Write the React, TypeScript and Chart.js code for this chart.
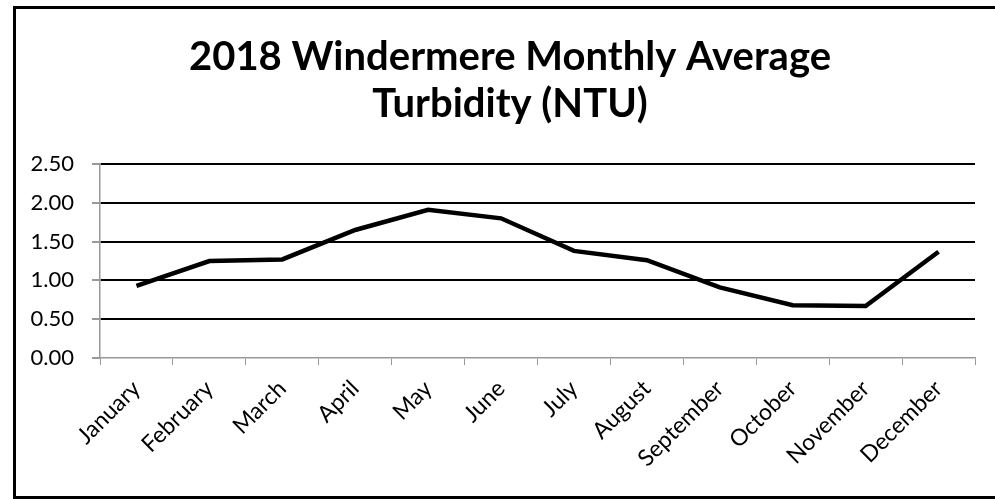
import React, { useEffect, useRef } from "react";
import { Chart, registerables } from "chart.js";

Chart.register(...registerables);

const months = [
  "January", "February", "March", "April", "May", "June",
  "July", "August", "September", "October", "November", "December",
];
const turbidity = [0.93, 1.25, 1.27, 1.65, 1.91, 1.80, 1.38, 1.26, 0.91, 0.68, 0.67, 1.37];
const titleLines = ["2018 Windermere Monthly Average", "Turbidity (NTU)"];
const yMin = 0;
const yMax = 2.5;
const yStep = 0.5;

// Title centred on the whole (cropped) chart frame, as in the original.
const frameTitle = {
  id: "frameTitle",
  afterDraw(chart: any) {
    const ctx = chart.ctx;
    ctx.save();
    ctx.font = "bold 40px Lato";
    ctx.fillStyle = "#000";
    ctx.textAlign = "center";
    ctx.textBaseline = "middle";
    const cx = (chart.width + 9) / 2;
    titleLines.forEach((t, i) => ctx.fillText(t, cx, 47.6 + i * 47.2));
    ctx.restore();
  },
};

export default function App() {
  const ref = useRef<HTMLCanvasElement | null>(null);

  useEffect(() => {
    if (!ref.current) return;
    const chart = new Chart(ref.current, {
      type: "line",
      data: {
        labels: months,
        datasets: [
          {
            label: "Turbidity",
            data: turbidity,
            borderColor: "#000",
            borderWidth: 4.5,
            pointRadius: 0,
            tension: 0,
            fill: false,
          },
        ],
      },
      plugins: [frameTitle],
      options: {
        responsive: false,
        animation: false,
        layout: { padding: { left: 0, right: 20, top: 155, bottom: 0 } },
        plugins: {
          legend: { display: false },
          tooltip: { enabled: false },
          title: { display: false },
        },
        scales: {
          x: {
            offset: true,
            grid: {
              display: true,
              drawOnChartArea: false,
              drawTicks: true,
              tickLength: 7,
              color: "#999",
              offset: true,
            },
            border: { color: "#999", width: 1.5 },
            ticks: {
              autoSkip: false,
              maxRotation: 45,
              minRotation: 45,
              color: "#000",
              padding: 10,
              font: { family: "Lato", size: 23 },
            },
            afterFit: (scale: any) => {
              scale.height = 138;
            },
          },
          y: {
            min: yMin,
            max: yMax,
            ticks: {
              stepSize: yStep,
              color: "#000",
              padding: 18,
              font: { family: "Lato", size: 22 },
              callback: (v: any) => Number(v).toFixed(2),
            },
            grid: {
              color: (c: any) => (c.tick && c.tick.value === 0 ? "rgba(0,0,0,0)" : "#000"),
              lineWidth: 2,
              tickColor: "#999",
              tickLength: 8,
            },
            border: { color: "#999", width: 1.5 },
            afterFit: (scale: any) => {
              scale.width = 84;
            },
          },
        },
      },
    });
    return () => chart.destroy();
  }, []);

  return (
    <div
      style={{
        position: "fixed",
        left: 13,
        top: 6,
        width: 982,
        height: 493,
        boxSizing: "border-box",
        borderLeft: "3px solid #000",
        borderTop: "3px solid #000",
        borderBottom: "3px solid #000",
        background: "#fff",
      }}
    >
      <canvas ref={ref} width={979} height={487} style={{ display: "block" }} />
    </div>
  );
}
